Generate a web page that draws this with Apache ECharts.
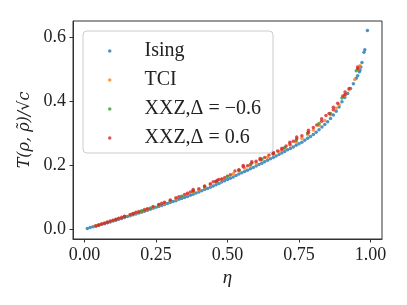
<!DOCTYPE html>
<html>
<head>
<meta charset="utf-8">
<script src="https://cdn.jsdelivr.net/npm/echarts@6/dist/echarts.min.js"></script>
<style>html,body{margin:0;padding:0;background:#fff;}#c{width:407px;height:305px;}</style>
</head>
<body>
<div id="c"></div>
<script>
const seriesNames = ['Ising', 'TCI', 'XXZ,Δ = −0.6', 'XXZ,Δ = 0.6'];
const xTicks = [0, 0.25, 0.5, 0.75, 1.0];
const yTicks = [0, 0.2, 0.4, 0.6];

const isingX = [0.01,0.02,0.03,0.04,0.05,0.06,0.07,0.08,0.09,0.10,0.11,0.12,0.13,0.14,0.15,0.16,0.17,0.18,0.19,0.20,0.21,0.22,0.23,0.24,0.25,0.26,0.27,0.28,0.29,0.30,0.31,0.32,0.33,0.34,0.35,0.36,0.37,0.38,0.39,0.40,0.41,0.42,0.43,0.44,0.45,0.46,0.47,0.48,0.49,0.50,0.51,0.52,0.53,0.54,0.55,0.56,0.57,0.58,0.59,0.60,0.61,0.62,0.63,0.64,0.65,0.66,0.67,0.68,0.69,0.70,0.71,0.72,0.73,0.74,0.75,0.76,0.77,0.78,0.79,0.80,0.81,0.82,0.83,0.84,0.85,0.86,0.87,0.88,0.89,0.90,0.91,0.92,0.93,0.94,0.95,0.955,0.961,0.963,0.966,0.970,0.977,0.980,0.989];
const isingY = [0.002,0.005,0.007,0.010,0.012,0.015,0.017,0.020,0.022,0.025,
0.028,0.031,0.033,0.036,0.039,0.042,0.045,0.047,0.050,0.053,
0.056,0.059,0.062,0.065,0.068,0.071,0.074,0.077,0.080,0.083,
0.086,0.089,0.093,0.096,0.099,0.102,0.106,0.109,0.113,0.116,
0.120,0.124,0.127,0.131,0.135,0.139,0.143,0.147,0.151,0.155,
0.159,0.163,0.168,0.172,0.176,0.180,0.184,0.189,0.193,0.197,
0.202,0.206,0.211,0.215,0.220,0.224,0.229,0.233,0.238,0.243,
0.248,0.252,0.257,0.262,0.267,0.272,0.278,0.284,0.290,0.296,
0.303,0.311,0.319,0.327,0.336,0.346,0.357,0.369,0.382,0.398,
0.412,0.424,0.440,0.455,0.472,
0.480,0.492,0.498,0.507,0.521,0.553,0.561,0.621];

const tciX = [0.04,0.06,0.08,0.10,0.12,0.14,0.16,0.18,0.20,0.22,0.24,0.26,0.28,0.30,0.32,0.34,0.36,0.38,0.40,0.42,0.44,0.46,0.48,0.50,0.52,0.54,0.56,0.58,0.60,0.62,0.64,0.66,0.68,0.70,0.72,0.74,0.76,0.78,0.80,0.82,0.84,0.86,0.88,0.89,0.91,0.925,0.945,0.958,0.963];
const tciY = [0.011,0.016,0.021,0.027,0.033,0.038,0.044,0.050,0.056,0.062,0.068,0.074,0.081,0.087,0.094,0.101,0.108,0.115,0.122,0.130,0.139,0.147,0.156,0.165,0.173,0.182,0.190,0.199,0.207,0.216,0.225,0.234,0.243,0.252,0.262,0.272,0.284,0.296,0.310,0.324,0.340,0.358,0.378,0.389,0.418,0.436,0.468,0.500,0.511];

const xxzNegX = [0.05,0.08,0.11,0.14,0.17,0.20,0.23,0.26,0.30,0.34,0.38,0.42,0.46,0.50,0.54,0.58,0.62,0.66,0.70,0.74,0.78,0.82,0.86,0.90,0.95];
const xxzNegY = [0.013,0.021,0.030,0.039,0.048,0.057,0.066,0.076,0.089,0.103,0.119,0.133,0.149,0.165,0.184,0.202,0.219,0.237,0.255,0.277,0.301,0.330,0.362,0.410,0.495];

const xxzPosX = [0.04,0.05,0.06,0.07,0.08,0.09,0.10,0.11,0.12,0.13,0.14,0.16,0.17,0.18,0.19,0.21,0.22,0.24,0.26,0.27,0.28,0.30,0.32,0.33,0.35,0.36,0.37,0.38,0.38,0.40,0.42,0.44,0.45,0.46,0.465,0.47,0.48,0.49,0.51,0.526,0.54,0.555,0.555,0.57,0.585,0.585,0.60,0.614,0.614,0.63,0.645,0.66,0.66,0.675,0.69,0.69,0.705,0.718,0.718,0.73,0.742,0.742,0.76,0.783,0.783,0.80,0.812,0.829,0.829,0.844,0.855,0.870,0.870,0.885,0.903,0.911,0.911,0.925,0.955,0.955];
const xxzPosY = [0.010,0.013,0.016,0.019,0.022,0.025,0.028,0.031,0.034,0.037,0.040,0.046,0.049,0.053,0.055,0.061,0.064,0.071,0.077,0.081,0.084,0.091,0.098,0.101,0.108,0.112,0.116,0.120,0.124,0.126,0.135,0.142,0.148,0.150,0.153,0.155,0.157,0.161,0.170,0.182,0.186,0.195,0.199,0.198,0.207,0.211,0.212,0.217,0.221,0.224,0.232,0.236,0.240,0.244,0.248,0.253,0.260,0.266,0.272,0.275,0.283,0.288,0.292,0.302,0.309,0.318,0.326,0.337,0.345,0.355,0.362,0.373,0.381,0.394,0.416,0.421,0.429,0.440,0.502,0.507];

const colors = ['#1f77b4', '#ff7f0e', '#2ca02c', '#d62728'];
const font = 'Liberation Serif';
const zip = (xs, ys) => xs.map((x, i) => [x, ys[i]]);
const datasets = [zip(isingX, isingY), zip(tciX, tciY), zip(xxzNegX, xxzNegY), zip(xxzPosX, xxzPosY)];

const chart = echarts.init(document.getElementById('c'), null, {renderer: 'canvas'});
chart.setOption({
  animation: false,
  backgroundColor: '#fff',
  grid: {left: 73, right: 25, top: 21, bottom: 66, show: true, borderColor: '#333', borderWidth: 1, backgroundColor: 'transparent'},
  legend: {
    orient: 'vertical', left: 83, top: 31,
    data: seriesNames.map(n => ({name: n, icon: 'circle'})),
    itemWidth: 3.5, itemHeight: 3.5, itemGap: 9,
    padding: [10, 12, 5, 25],
    backgroundColor: 'rgba(255,255,255,0.8)', borderColor: '#cccccc', borderWidth: 1, borderRadius: 4,
    formatter: n => '{t|' + n + '}',
    textStyle: {
      fontFamily: font, fontSize: 20, color: '#222',
      rich: {t: {fontFamily: font, fontSize: 20, color: '#222', lineHeight: 21, padding: [0, 0, 0, 28]}}
    }
  },
  xAxis: {
    type: 'value', min: -0.04, max: 1.04,
    name: 'η', nameLocation: 'middle', nameGap: 28,
    nameTextStyle: {fontFamily: font, fontSize: 19, fontStyle: 'italic', color: '#222'},
    splitLine: {show: false},
    axisLine: {show: true, onZero: false, lineStyle: {color: '#333', width: 1}},
    axisTick: {show: true, inside: false, length: 3.5, customValues: xTicks, lineStyle: {color: '#333'}},
    axisLabel: {customValues: xTicks, margin: 7, fontFamily: font, fontSize: 18, color: '#222', formatter: v => v.toFixed(2)}
  },
  yAxis: {
    type: 'value', min: -0.031, max: 0.651,
    name: 'T(ρ, ρ̃)/√c', nameLocation: 'middle', nameGap: 29, nameRotate: 90,
    nameTextStyle: {fontFamily: 'DejaVu Serif', fontSize: 16, fontStyle: 'italic', color: '#222'},
    splitLine: {show: false},
    axisLine: {show: true, onZero: false, lineStyle: {color: '#333', width: 1}},
    axisTick: {show: true, inside: false, length: 3.5, customValues: yTicks, lineStyle: {color: '#333'}},
    axisLabel: {customValues: yTicks, margin: 7, fontFamily: font, fontSize: 18, color: '#222', formatter: v => v.toFixed(1)}
  },
  series: seriesNames.map((n, i) => ({
    name: n, type: 'scatter', data: datasets[i], symbol: 'circle', symbolSize: 3.5,
    itemStyle: {color: colors[i]}, emphasis: {disabled: true}
  }))
});
</script>
</body>
</html>
